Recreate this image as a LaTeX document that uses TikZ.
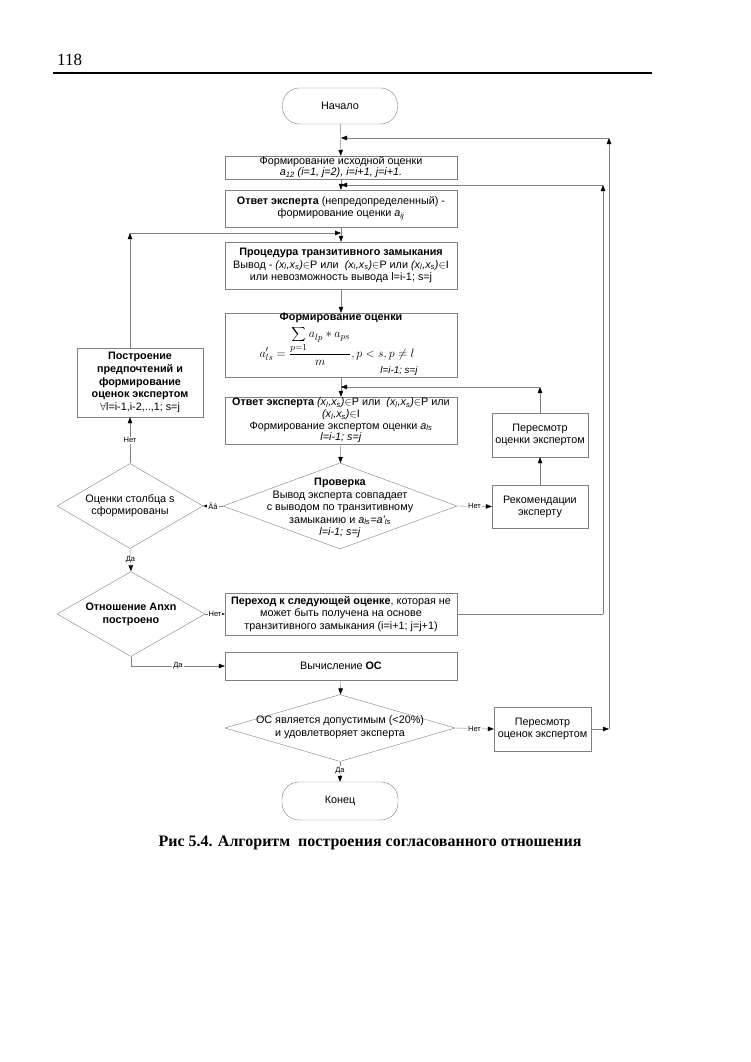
\documentclass[tikz,border=0pt]{standalone}
\usepackage{fontspec}
\setmainfont{Liberation Sans}
\newfontfamily\timesfont{Liberation Serif}
\usetikzlibrary{positioning}
\usetikzlibrary{arrows.meta}
\usetikzlibrary{shapes.geometric}

\begin{document}
\begin{tikzpicture}[x=1pt, y=-1pt,
    font=\fontsize{10.8}{12.2}\selectfont,
    box/.style={draw=gray, fill=white, align=center, inner sep=0.5pt},
    term/.style={draw=gray, fill=white, rounded corners=17pt, minimum width=115pt, minimum height=36pt},
    decision/.style={draw=gray, diamond, inner sep=0pt},
    txt/.style={align=center, inner sep=0pt},
    line/.style={draw=gray},
    tip/.style={draw=gray, -{Triangle[length=6pt, width=4.5pt, color=black]}},
    lbl/.style={fill=white, inner sep=1pt, font=\fontsize{7.5}{8}\selectfont}]
  \useasboundingbox (0,0) rectangle (750,1062);

  % page header
  \node[anchor=base west, inner sep=0pt, font=\timesfont\fontsize{17}{19}\selectfont] (page) at (57,66) {118};
  \coordinate (ruleL) at (53,73);
  \coordinate (ruleR) at (652,73);
  \draw[line width=1.2pt] (ruleL) -- (ruleR);

  % main column
  \node[term] (start) at (340,106) {Начало};
  \node[box, minimum width=232pt, minimum height=23pt, font=\fontsize{10.8}{11}\selectfont] (init) at (341,167.5)
    {Формирование исходной оценки\\ \textit{a\textsubscript{12} (i=1, j=2), i=i+1, j=i+1.}};
  \node[box, minimum width=232pt, minimum height=37pt] (answer) at (341,208.5)
    {\textbf{Ответ эксперта} (непредопределенный) -\\ формирование оценки \textit{a\textsubscript{ij}}};
  \node[box, minimum width=232pt, minimum height=47pt] (trans) at (341,265.5)
    {\textbf{Процедура транзитивного замыкания}\\
     Вывод - \textit{(x\textsubscript{l},x\textsubscript{s})}$\in$P или \ \textit{(x\textsubscript{l},x\textsubscript{s})}$\in$P или \textit{(x\textsubscript{l},x\textsubscript{s})}$\in$I\\
     или невозможность вывода l=i-1; s=j};
  \node[box, minimum width=232pt, minimum height=64pt] (estim) at (341,345) {};
  \node[txt, font=\bfseries\fontsize{10.8}{12}\selectfont] (estimhead) at (341,317.5) {Формирование оценки};
  \node[txt, anchor=base, font=\fontsize{12.5}{14}\selectfont] (formula) at (337,357.5)
    {$\displaystyle a'_{ls}=\frac{\displaystyle\sum_{p=1} a_{lp}*a_{ps}}{m}, p<s, p\neq l$};
  \node[txt, font=\itshape\fontsize{9.8}{11}\selectfont] (estimidx) at (399,370.5) {l=i-1; s=j};
  \node[box, minimum width=232pt, minimum height=47pt, font=\fontsize{10.8}{11.8}\selectfont] (answer2) at (341,420.5)
    {\textbf{Ответ эксперта} \textit{(x\textsubscript{l},x\textsubscript{s})}$\in$P или \ \textit{(x\textsubscript{l},x\textsubscript{s})}$\in$P или\\
     \textit{(x\textsubscript{l},x\textsubscript{s})}$\in$I\\
     Формирование экспертом оценки \textit{a\textsubscript{ls}}\\
     \textit{l=i-1; s=j}};
  \node[decision, minimum width=234pt, minimum height=86pt] (check) at (340,506) {};
  \node[txt, font=\fontsize{10.8}{12.5}\selectfont] (checktxt) at (340,508)
    {\textbf{Проверка}\\ Вывод эксперта совпадает\\ с выводом по транзитивному\\
     замыканию и \textit{a\textsubscript{ls}=a'\textsubscript{ls}}\\ \textit{l=i-1; s=j}};

  % left column
  \node[decision, minimum width=146pt, minimum height=85pt] (cols) at (130,506) {};
  \node[txt] (colstxt) at (130,506) {Оценки столбца s\\ сформированы};
  \node[box, minimum width=126pt, minimum height=69pt, font=\fontsize{10.8}{12.7}\selectfont] (build) at (140,382.5)
    {\textbf{Построение}\\ \textbf{предпочтений и}\\ \textbf{формирование}\\ \textbf{оценок экспертом}\\ $\forall$l=i-1,i-2,..,1; s=j};
  \node[decision, minimum width=148pt, minimum height=85pt] (anxn) at (131,614) {};
  \node[txt, font=\bfseries\fontsize{10.8}{13}\selectfont] (anxntxt) at (131,614) {Отношение Anxn\\ построено};

  % right column
  \node[box, minimum width=96pt, minimum height=44pt] (review) at (540,435) {Пересмотр\\ оценки экспертом};
  \node[box, minimum width=96pt, minimum height=43pt] (recom) at (540,506.5) {Рекомендации\\ эксперту};

  % lower part
  \node[box, minimum width=232pt, minimum height=42pt] (next) at (341,614)
    {\textbf{Переход к следующей оценке}, которая не\\ может быть получена на основе\\ транзитивного замыкания (i=i+1; j=j+1)};
  \node[box, minimum width=232pt, minimum height=28pt] (calc) at (341,666) {Вычисление \textbf{ОС}};
  \node[decision, minimum width=230pt, minimum height=67pt] (accept) at (340,728) {};
  \node[txt, font=\fontsize{10.8}{13}\selectfont] (accepttxt) at (340,727) {ОС является допустимым (<20\%)\\ и удовлетворяет эксперта};
  \node[box, minimum width=97pt, minimum height=44pt] (revise) at (542.5,729) {Пересмотр\\ оценок экспертом};
  \node[term, minimum width=116pt, minimum height=38pt] (finish) at (340,801) {Конец};

  \node[font=\timesfont\bfseries\fontsize{16}{18}\selectfont] (caption) at (370,843)
    {Рис 5.4. Алгоритм \ построения согласованного отношения};

  % corners of the loops
  \coordinate (loopA) at (609,138);
  \coordinate (loopB) at (603,185);
  \coordinate (loopC) at (130,233);
  \coordinate (loopD) at (540,387);
  \coordinate (joinA) at (341,138);
  \coordinate (joinB) at (341,185);
  \coordinate (joinC) at (341,233);
  \coordinate (joinD) at (341,387);

  % straight connectors
  \draw[tip] (start) -- (init);
  \draw[tip] (init) -- (answer);
  \draw[tip] (answer) -- (trans);
  \draw[tip] (trans) -- (estim);
  \draw[tip] (estim) -- (answer2);
  \draw[tip] (answer2) -- (check);
  \draw[tip] (check.west) -- node[lbl] {Ââ} (cols.east);
  \draw[tip] (check.east) -- node[lbl] {Нет} (recom.west);
  \draw[tip] (recom) -- (review);
  \draw[tip] (cols.north) -- node[lbl] {Нет} (cols.north |- build.south);
  \draw[tip] (cols.south) -- node[lbl] {Да} (anxn.north);
  \draw[tip] (anxn.east) -- node[lbl] {Нет} (next.west);
  \draw[tip] (anxn.south) |- node[lbl, pos=0.75] {Да} (calc.west);
  \draw[tip] (calc) -- (accept);
  \draw[tip] (accept.east) -- node[lbl] {Нет} (revise.west);
  \draw[tip] (accept.south) -- node[lbl, pos=0.45] {Да} (finish.north);

  % loops back to the main column
  \draw[tip] (revise.east) -- (revise.east -| loopA);
  \draw[tip] (revise.east -| loopA) -- (loopA);
  \draw[tip] (loopA) -- (joinA);
  \draw[line] (next.east) -- (next.east -| loopB);
  \draw[tip] (next.east -| loopB) -- (loopB);
  \draw[tip] (loopB) -- (joinB);
  \draw[tip] (cols.north |- build.north) -- (loopC);
  \draw[tip] (loopC) -- (joinC);
  \draw[tip] (review.north) -- (loopD);
  \draw[tip] (loopD) -- (joinD);
\end{tikzpicture}
\end{document}
